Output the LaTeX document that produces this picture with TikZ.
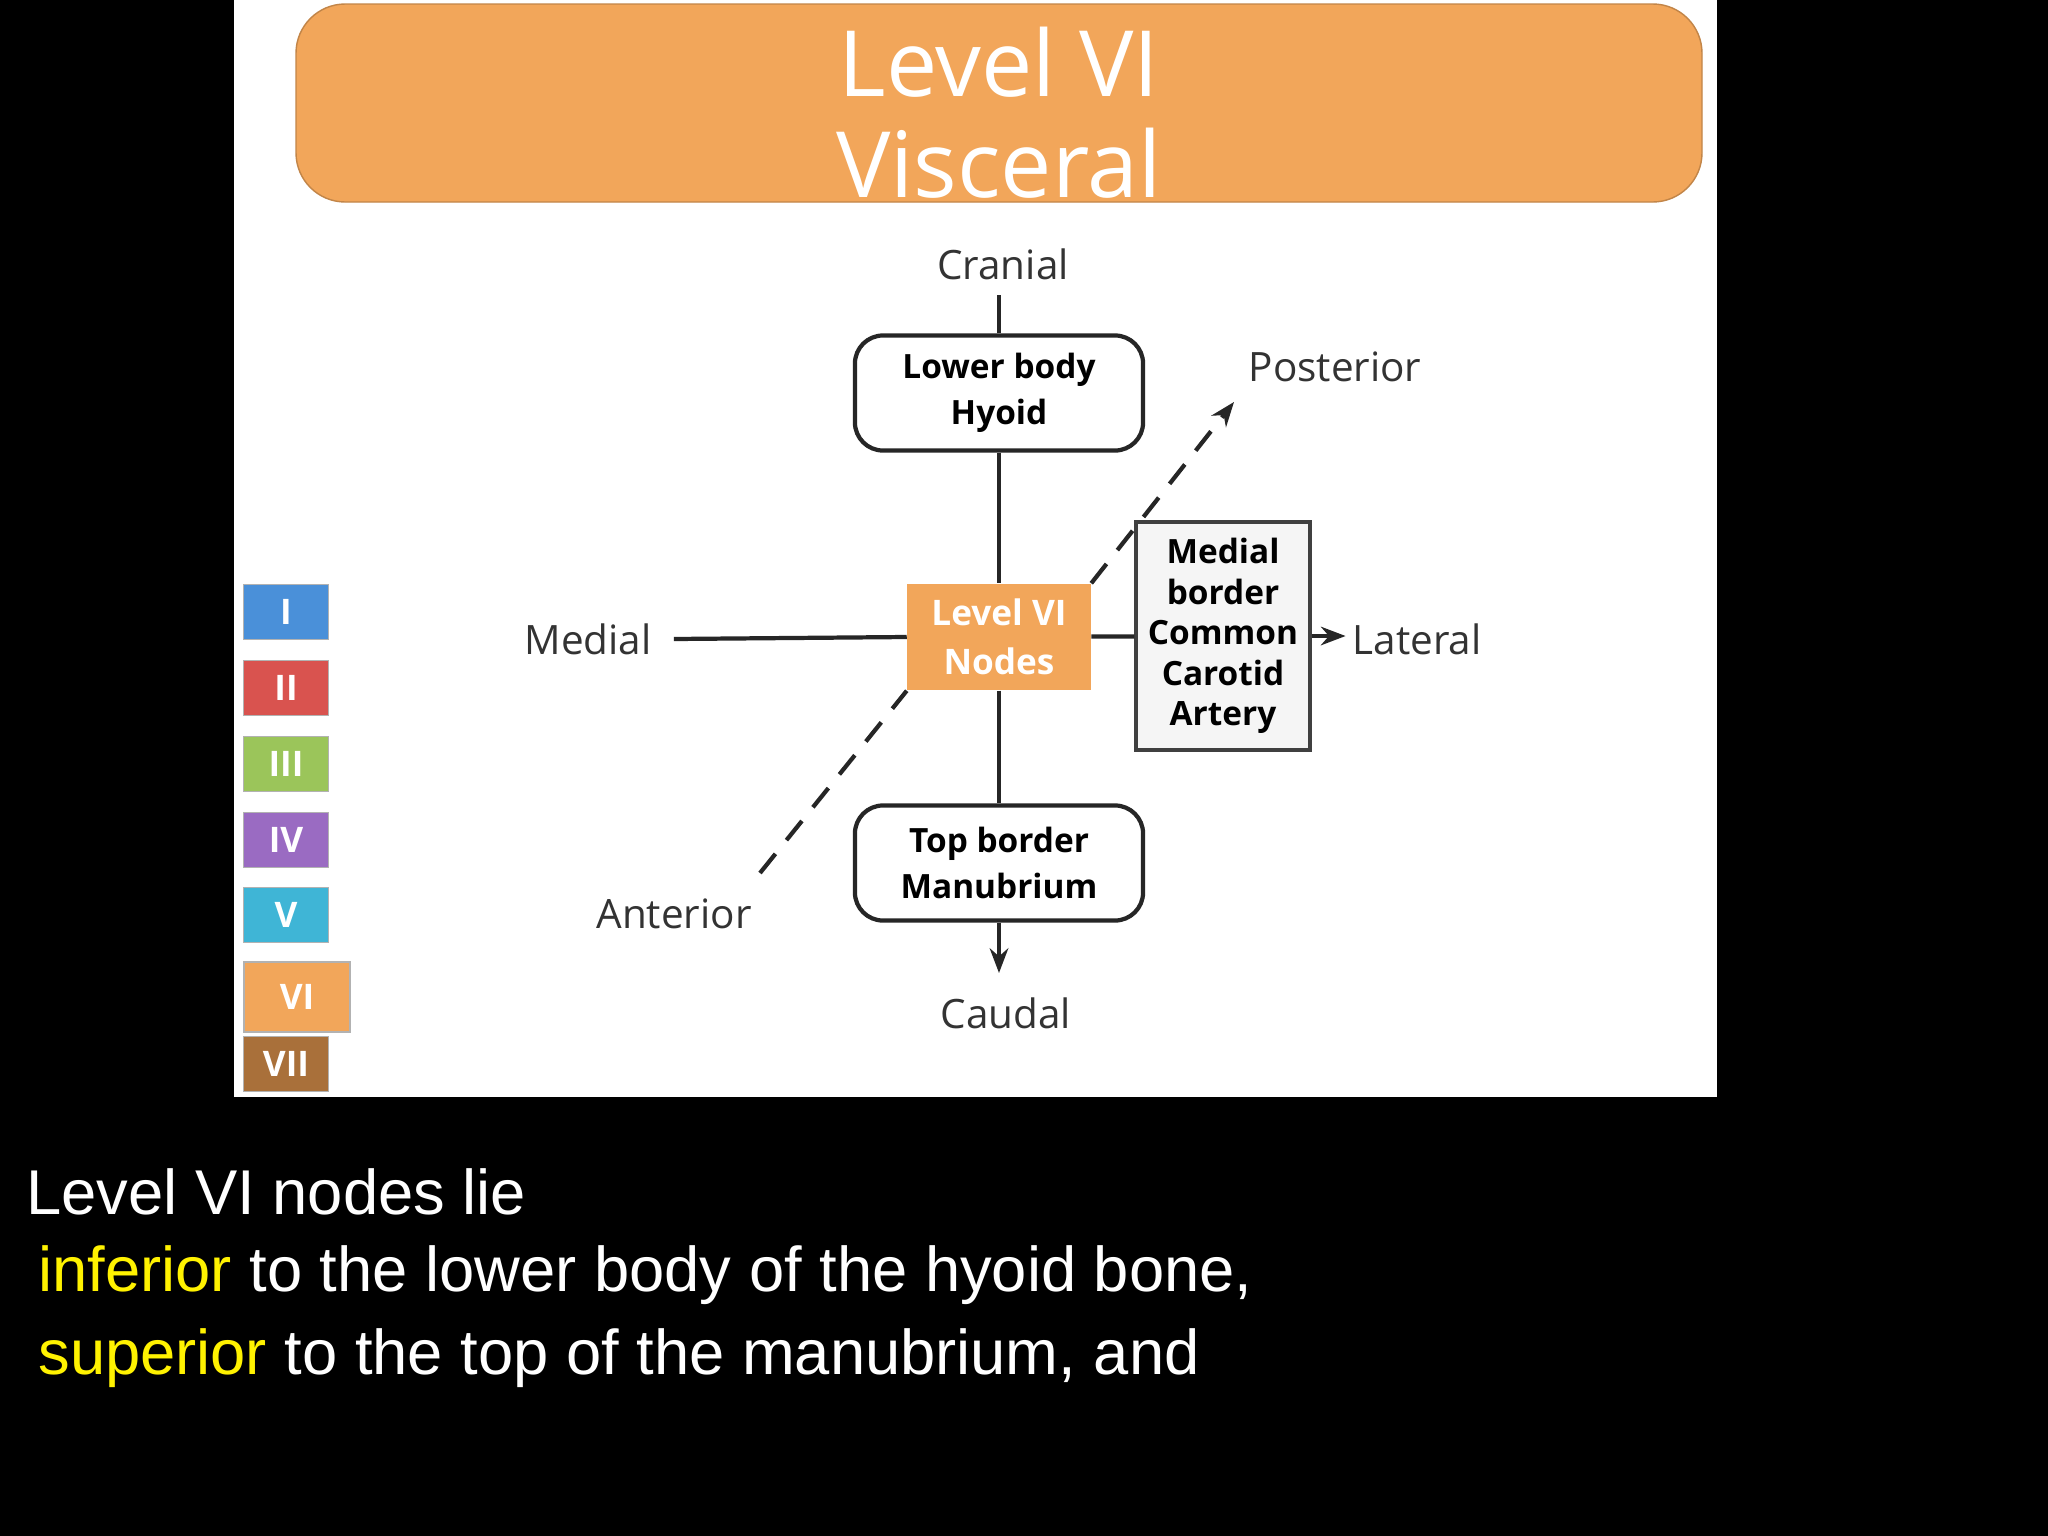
\documentclass[tikz,border=0pt]{standalone}
\usepackage{fontspec}
\setmainfont{Liberation Sans}
\newfontfamily\slidefont{Open Sans}
\usetikzlibrary{positioning,arrows.meta}
\definecolor{banner}{HTML}{F2A65A}
\definecolor{lvI}{HTML}{4A90D9}
\definecolor{lvII}{HTML}{D9534F}
\definecolor{lvIII}{HTML}{9BC55A}
\definecolor{lvIV}{HTML}{9A6BC2}
\definecolor{lvV}{HTML}{3FB5D6}
\definecolor{lvVII}{HTML}{A9703A}
\begin{document}
\begin{tikzpicture}[x=0.01cm, y=-0.01cm,
    label/.style={font=\slidefont\fontsize{11.5}{13}\selectfont, text=black!80},
    bound/.style={rectangle, rounded corners=8pt, draw=black!85, line width=1.2pt, minimum width=2.88cm, minimum height=1.15cm, align=center, font=\slidefont\bfseries\fontsize{9.5}{13}\selectfont},
    legend/.style={rectangle, draw=black!30, minimum width=0.85cm, minimum height=0.55cm, text=white, font=\slidefont\bfseries\fontsize{10}{12}\selectfont},
    axis/.style={line width=1.2pt, black!85},
    arrow/.style={-{Stealth[length=7pt]}, line width=1.2pt, black!85}
]
\fill[black] (0,0) rectangle (2048,1536);
\useasboundingbox (0,0) rectangle (2048,1536);
\fill[white] (234,0) rectangle (1717,1097);

% Banner
\fill[banner, draw=banner!80!black, rounded corners=14pt] (296,4) rectangle (1702,202);
\node[text=white, font=\slidefont\fontsize{26}{30}\selectfont] (title1) at (999,62) {Level VI};
\node[text=white, font=\slidefont\fontsize{26}{30}\selectfont] (title2) at (999,163) {Visceral};

% Boxes
\node[bound] (hyoid) at (999,393) {Lower body\\Hyoid};
\node[rectangle, fill=banner, minimum width=1.83cm, minimum height=1.06cm, align=center, text=white, font=\slidefont\bfseries\fontsize{10}{14}\selectfont] (nodes) at (999,637) {Level VI\\Nodes};
\node[rectangle, draw=black!75, fill=black!4, line width=1pt, minimum width=1.68cm, minimum height=2.28cm, align=center, font=\slidefont\bfseries\fontsize{9.5}{11.5}\selectfont] (carotid) at (1223,636) {Medial\\border\\Common\\Carotid\\Artery};
\node[bound] (manubrium) at (999,863) {Top border\\Manubrium};

% Labels
\node[label] (cranial) at (1003,264) {Cranial};
\node[label] (caudal) at (1006,1013) {Caudal};
\node[label] (medial) at (588,639) {Medial};
\node[label] (lateral) at (1417,639) {Lateral};
\node[label] (posterior) at (1335,367) {Posterior};
\node[label] (anterior) at (674,914) {Anterior};
\coordinate (antend) at (760,873);
\coordinate (postend) at (1234,402);

% Axes
\draw[axis] (hyoid.north) -- ++(0,-38);
\draw[axis] (hyoid) -- (nodes);
\draw[axis] (nodes) -- (manubrium);
\draw[arrow] (manubrium) -- ++(0,110);
\draw[axis] (medial.east) ++(10,0) -- (nodes.west);
\draw[axis] (nodes) -- (carotid);
\draw[arrow] (carotid.east) -- ++(34,0);
\draw[axis, dashed, dash pattern=on 7pt off 5pt, shorten <=0pt] (antend) -- (nodes.south west);
\draw[arrow, dashed, dash pattern=on 7pt off 5pt, -{Stealth[length=7pt, open]}] (nodes.north east) -- (postend);

% Legend
\node[legend, fill=lvI] (l1) at (286,612) {I};
\node[legend, fill=lvII] (l2) at (286,688) {II};
\node[legend, fill=lvIII] (l3) at (286,764) {III};
\node[legend, fill=lvIV] (l4) at (286,840) {IV};
\node[legend, fill=lvV] (l5) at (286,915) {V};
\node[legend, fill=banner, minimum width=1.06cm, minimum height=0.7cm] (l6) at (297,997) {VI};
\node[legend, fill=lvVII] (l7) at (286,1064) {VII};

% Caption
\node[anchor=west, text=white, font=\fontsize{18}{22}\selectfont] (cap1) at (14,1192) {Level VI nodes lie};
\node[anchor=west, text=white, font=\fontsize{18}{22}\selectfont] (cap2) at (26,1275) {\textcolor{yellow}{inferior} to the lower body of the hyoid bone,};
\node[anchor=west, text=white, font=\fontsize{18}{22}\selectfont] (cap3) at (26,1358) {\textcolor{yellow}{superior} to the top of the manubrium, and};
\end{tikzpicture}
\end{document}
